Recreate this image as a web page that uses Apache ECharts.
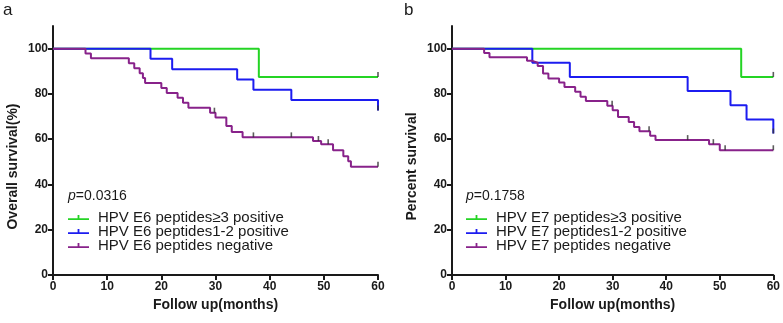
<!DOCTYPE html>
<html>
<head>
<meta charset="utf-8">
<script src="https://cdn.jsdelivr.net/npm/echarts@6/dist/echarts.min.js"></script>
<style>
html, body { margin: 0; padding: 0; background: #fff; }
#chart { width: 783px; height: 323px; }
</style>
</head>
<body>
<div id="chart"></div>
<script>
// ticks
var xTicks = [0, 10, 20, 30, 40, 50, 60];
var yTicks = [0, 20, 40, 60, 80, 100];

// panel a (E6)
var namesA = ['HPV E6 peptides≥3 positive', 'HPV E6 peptides1-2 positive', 'HPV E6 peptides negative'];
var greenA = [[0, 100], [38, 87.5], [60, 87.5]];
var blueA = [[0, 100], [18, 95.5], [22, 90.9], [34, 86.4], [37, 81.8], [44, 77.3], [60, 77.3], [60, 72.7]];
var purpleA = [[0, 100], [6, 97.8], [7, 95.7], [14, 93.5], [15, 91.3], [16, 89.1], [16.6, 87.0], [17, 84.8],
    [20, 82.6], [21, 80.4], [23, 78.3], [24, 76.1], [25, 73.9], [29, 71.7], [30, 69.6], [32, 65.8],
    [33, 63.2], [35, 60.8], [48, 59.2], [49.5, 57.8], [51.7, 55.1], [53.6, 52.5], [54.5, 50.2],
    [55, 47.8], [60, 47.8]];
var censorA = [[60, 87.5], [60, 72.7], [29.8, 71.7], [37, 60.8], [44, 60.8], [49, 59.2], [50.8, 57.8], [60, 47.8]];
var pA = '0.0316';

// panel b (E7)
var namesB = ['HPV E7 peptides≥3 positive', 'HPV E7 peptides1-2 positive', 'HPV E7 peptides negative'];
var greenB = [[0, 100], [54, 87.5], [60, 87.5]];
var blueB = [[0, 100], [15, 93.75], [22, 87.5], [44, 81.25], [52, 75], [55, 68.75], [60, 68.75], [60, 62.5]];
var purpleB = [[0, 100], [6, 98.1], [7, 96.2], [14, 94.6], [15, 93.8], [16, 92.3], [17, 89.0], [18, 86.8],
    [20, 85.0], [21, 83.1], [23, 80.9], [24, 78.7], [25, 76.9], [29, 74.8], [30, 72.8], [31, 69.8],
    [33, 67.6], [34, 65.4], [35, 63.5], [37, 61.5], [38, 59.6], [48, 57.8], [50, 55.1], [60, 55.1]];
var censorB = [[60, 87.5], [60, 62.5], [29.9, 74.8], [36.8, 63.5], [44, 59.6], [48.8, 57.8], [51, 55.1], [60, 55.1]];
var pB = '0.1758';

var colors = ['#24d424', '#1c1cf0', '#88228a'];
var font = 'Liberation Sans';
var ink = '#1a1a1a';

function curve(name, data, color, idx) {
    return {
        name: name,
        type: 'line',
        step: 'end',
        data: data,
        xAxisIndex: idx,
        yAxisIndex: idx,
        symbol: 'none',
        lineStyle: {color: color, width: 2},
        itemStyle: {color: color},
        z: 2
    };
}

function censor(data, idx) {
    return {
        name: 'censored' + idx,
        type: 'scatter',
        data: data,
        xAxisIndex: idx,
        yAxisIndex: idx,
        symbol: 'rect',
        symbolSize: [1.6, 5],
        symbolOffset: [0, -2.5],
        itemStyle: {color: '#333'},
        silent: true,
        z: 3
    };
}

function xAxis(idx) {
    return {
        type: 'value',
        gridIndex: idx,
        min: 0,
        max: 60,
        interval: 10,
        name: 'Follow up(months)',
        nameLocation: 'middle',
        nameGap: 22,
        nameTextStyle: {fontFamily: font, fontWeight: 'bold', fontSize: 14, color: ink},
        axisLine: {lineStyle: {color: ink, width: 2}},
        axisTick: {length: 5, lineStyle: {color: ink, width: 2}},
        axisLabel: {fontFamily: font, fontWeight: 'bold', fontSize: 12, color: ink, margin: 6,
            customValues: xTicks},
        splitLine: {show: false}
    };
}

function yAxis(idx, name, gap) {
    return {
        type: 'value',
        gridIndex: idx,
        min: 0,
        max: 110,
        interval: 20,
        name: name,
        nameLocation: 'middle',
        nameGap: gap,
        nameTextStyle: {fontFamily: font, fontWeight: 'bold', fontSize: 14, color: ink, padding: [0, 32, 0, 0]},
        axisLine: {show: true, lineStyle: {color: ink, width: 2}},
        axisTick: {show: true, length: 5, lineStyle: {color: ink, width: 2}, customValues: yTicks},
        axisLabel: {fontFamily: font, fontWeight: 'bold', fontSize: 12, color: ink, margin: 5,
            customValues: yTicks},
        splitLine: {show: false}
    };
}

function legend(names, left) {
    return {
        data: names,
        orient: 'vertical',
        left: left,
        top: 210,
        padding: 0,
        itemGap: -1,
        itemWidth: 21,
        itemHeight: 6,
        icon: 'path://M0,3.2h21v1.8H0z M9.6,0h1.8v4H9.6z',
        textStyle: {fontFamily: font, fontSize: 15, color: ink, padding: [0, 0, 0, 4]}
    };
}

function pText(p, left) {
    return {
        text: '{i|p}=' + p,
        left: left,
        top: 189,
        padding: 0,
        textStyle: {
            fontFamily: font, fontSize: 14, fontWeight: 'normal', color: ink,
            rich: {i: {fontFamily: font, fontSize: 14, fontStyle: 'italic', color: ink}}
        }
    };
}

var myChart = echarts.init(document.getElementById('chart'));
var option = {
    animation: false,
    title: [
        {text: 'a', left: 3, top: 2, padding: 0, textStyle: {fontFamily: font, fontSize: 17, fontWeight: 'normal', color: ink}},
        {text: 'b', left: 404, top: 2, padding: 0, textStyle: {fontFamily: font, fontSize: 17, fontWeight: 'normal', color: ink}},
        pText(pA, 68),
        pText(pB, 466)
    ],
    legend: [legend(namesA, 68), legend(namesB, 466)],
    grid: [
        {left: 53, right: 405, top: 26, bottom: 48},
        {left: 452, right: 7, top: 26, bottom: 48}
    ],
    xAxis: [xAxis(0), xAxis(1)],
    yAxis: [yAxis(0, 'Overall survival(%)', 33), yAxis(1, 'Percent survival', 33)],
    series: [
        curve(namesA[0], greenA, colors[0], 0),
        curve(namesA[1], blueA, colors[1], 0),
        curve(namesA[2], purpleA, colors[2], 0),
        censor(censorA, 0),
        curve(namesB[0], greenB, colors[0], 1),
        curve(namesB[1], blueB, colors[1], 1),
        curve(namesB[2], purpleB, colors[2], 1),
        censor(censorB, 1)
    ]
};
myChart.setOption(option);
</script>
</body>
</html>
